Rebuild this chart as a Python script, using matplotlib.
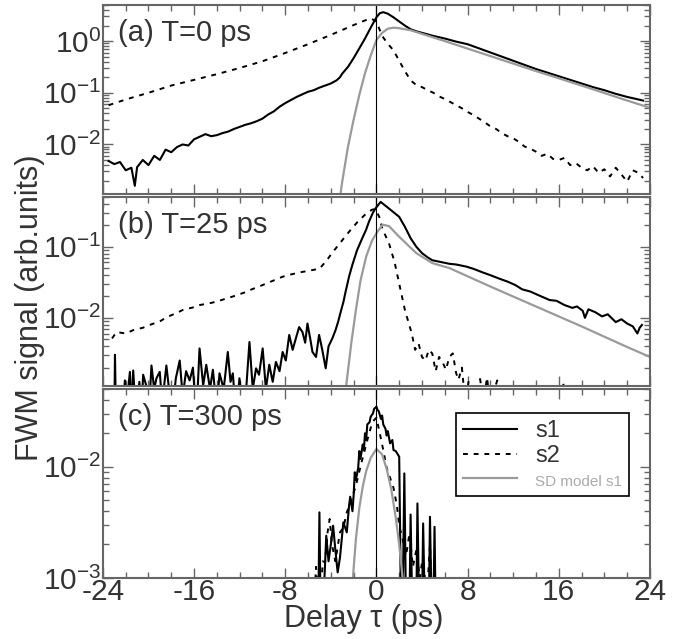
import numpy as np
import matplotlib
matplotlib.use("Agg")
import matplotlib.pyplot as plt
from matplotlib.ticker import MultipleLocator, LogLocator, NullFormatter

plt.rcParams['font.family'] = ['Liberation Sans', 'DejaVu Sans']
plt.rcParams['mathtext.fontset'] = 'custom'
plt.rcParams['mathtext.rm'] = 'Liberation Sans'
plt.rcParams['mathtext.it'] = 'Liberation Sans:italic'
plt.rcParams['axes.unicode_minus'] = False

# values are log10(signal): (delay ps, log10 value)
a_s1 = [(-23.5, -2.32), (-23.0, -2.38), (-22.5, -2.34), (-22.0, -2.50), (-21.5, -2.45),
        (-21.2, -2.80), (-21.0, -2.44), (-20.5, -2.30), (-20.0, -2.40), (-19.5, -2.22),
        (-19.0, -2.30), (-18.5, -2.10), (-18.0, -2.15), (-17.5, -2.05), (-17.0, -2.00),
        (-16.5, -2.02), (-16.0, -1.90), (-15.5, -1.85), (-15.0, -1.80), (-14.5, -1.84),
        (-14.0, -1.82), (-13.5, -1.78), (-13.0, -1.75), (-12.5, -1.70), (-12.0, -1.66),
        (-11.5, -1.62), (-11.0, -1.59), (-10.5, -1.55), (-10.0, -1.50), (-9.5, -1.42),
        (-9.0, -1.36), (-8.5, -1.27), (-8.0, -1.20), (-7.5, -1.14), (-7.0, -1.08),
        (-6.5, -1.03), (-6.0, -0.98), (-5.5, -0.95), (-5.0, -0.90), (-4.5, -0.86),
        (-4.0, -0.82), (-3.5, -0.76), (-3.2, -0.70), (-3.0, -0.63), (-2.5, -0.50),
        (-2.0, -0.33), (-1.5, -0.14), (-1.0, 0.05), (-0.5, 0.26), (0.0, 0.46),
        (0.3, 0.54), (0.6, 0.56), (1.0, 0.53), (1.5, 0.46), (2.0, 0.38), (2.5, 0.30),
        (3.0, 0.23), (3.5, 0.19), (4.0, 0.16), (5.0, 0.10), (6.0, 0.05), (7.0, -0.01),
        (8.0, -0.06), (9.0, -0.14), (10.0, -0.22), (11.0, -0.30), (12.0, -0.38),
        (13.0, -0.46), (14.0, -0.54), (15.0, -0.61), (16.0, -0.68), (17.0, -0.75),
        (18.0, -0.82), (19.0, -0.89), (20.0, -0.95), (21.0, -1.02), (22.0, -1.08),
        (23.0, -1.13), (23.4, -1.15)]

a_s2 = [(-23.5, -1.24), (-22.0, -1.13), (-20.0, -1.00), (-18.0, -0.86), (-16.0, -0.75),
        (-14.0, -0.64), (-12.0, -0.52), (-10.0, -0.39), (-8.0, -0.23), (-6.0, -0.06),
        (-4.0, 0.12), (-2.0, 0.31), (-1.0, 0.40), (-0.5, 0.44), (0.0, 0.38), (0.5, 0.10),
        (1.0, -0.05), (1.5, -0.18), (2.0, -0.38), (2.5, -0.58), (3.0, -0.76), (3.5, -0.85),
        (4.0, -0.89), (4.5, -0.95), (5.0, -1.00), (5.5, -1.07), (6.0, -1.12), (6.5, -1.18),
        (7.0, -1.24), (7.5, -1.30), (8.0, -1.37), (8.5, -1.43), (9.0, -1.50), (9.5, -1.57),
        (10.0, -1.65), (10.5, -1.70), (11.0, -1.78), (11.5, -1.84), (12.0, -1.88),
        (12.5, -1.95), (13.0, -2.04), (13.5, -2.08), (14.0, -2.14), (14.5, -2.22),
        (15.0, -2.18), (15.5, -2.28), (16.0, -2.30), (16.5, -2.26), (17.0, -2.40),
        (17.5, -2.36), (18.0, -2.45), (18.5, -2.50), (19.0, -2.42), (19.5, -2.55),
        (20.0, -2.48), (20.5, -2.62), (21.0, -2.45), (21.5, -2.58), (22.0, -2.72),
        (22.5, -2.50), (23.0, -2.55), (23.4, -2.65)]

a_model = [(-3.3, -3.20), (-3.0, -2.72), (-2.5, -2.05), (-2.0, -1.52), (-1.5, -1.04),
           (-1.0, -0.62), (-0.5, -0.28), (0.0, 0.02), (0.5, 0.16), (1.0, 0.24), (1.5, 0.26),
           (2.0, 0.25), (2.5, 0.23), (3.0, 0.21), (6.0, 0.00), (10.0, -0.29), (14.0, -0.58),
           (18.0, -0.86), (22.0, -1.15), (24.0, -1.29)]

b_s1 = [(-23.6, -3.4), (-23.0, -3.4), (-22.94, -2.52), (-22.85, -3.4), (-22.3, -3.4),
        (-22.07, -2.88), (-21.9, -3.2), (-21.63, -2.76), (-21.5, -3.3), (-21.34, -2.74),
        (-21.1, -3.4), (-20.8, -2.90), (-20.6, -3.3), (-20.47, -2.80), (-20.2, -2.95),
        (-19.98, -3.4), (-19.74, -2.67), (-19.5, -3.0), (-19.3, -2.85), (-19.01, -2.76),
        (-18.8, -3.2), (-18.43, -2.67), (-18.2, -3.0), (-17.9, -3.3), (-17.6, -2.85),
        (-17.26, -2.60), (-17.0, -3.1), (-16.7, -2.75), (-16.39, -2.88), (-16.10, -2.70),
        (-15.8, -3.4), (-15.52, -2.43), (-15.2, -2.95), (-14.93, -2.66), (-14.6, -3.0),
        (-14.35, -2.73), (-14.0, -3.3), (-13.77, -2.78), (-13.4, -3.0), (-13.04, -2.48),
        (-12.8, -2.9), (-12.60, -2.78), (-12.3, -3.4), (-12.02, -2.85), (-11.6, -3.4),
        (-11.14, -2.34), (-10.85, -3.0), (-10.56, -2.71), (-10.3, -2.8), (-9.98, -2.43),
        (-9.7, -3.0), (-9.40, -2.66), (-9.1, -2.9), (-8.82, -2.62), (-8.5, -2.75),
        (-8.23, -2.48), (-7.95, -2.6), (-7.65, -2.24), (-7.35, -2.45), (-7.07, -2.29),
        (-6.78, -2.13), (-6.49, -2.20), (-6.25, -2.35), (-6.05, -2.08), (-5.8, -2.3),
        (-5.61, -2.48), (-5.3, -2.55), (-5.03, -2.24), (-4.75, -2.45), (-4.45, -2.71),
        (-4.2, -2.40), (-3.87, -2.29), (-3.58, -2.17), (-3.35, -2.05), (-3.14, -1.92),
        (-2.9, -1.78), (-2.70, -1.63), (-2.4, -1.42), (-2.12, -1.26), (-1.7, -1.05),
        (-1.24, -0.88), (-0.9, -0.76), (-0.66, -0.65), (-0.3, -0.52), (-0.07, -0.46),
        (0.37, -0.37), (1.0, -0.45), (2.0, -0.58), (2.5, -0.72), (3.0, -0.88), (3.5, -1.00),
        (4.0, -1.09), (4.5, -1.15), (4.9, -1.19), (5.5, -1.21), (6.4, -1.24), (7.0, -1.25),
        (7.9, -1.28), (8.5, -1.31), (9.3, -1.36), (10.0, -1.40), (10.8, -1.45),
        (11.5, -1.49), (12.2, -1.54), (12.8, -1.60), (13.5, -1.63), (14.2, -1.68),
        (15.2, -1.75), (15.8, -1.76), (16.5, -1.82), (17.2, -1.86), (17.6, -1.84),
        (18.1, -1.90), (18.3, -2.00), (18.6, -1.88), (19.2, -1.92), (19.8, -1.98),
        (20.3, -1.95), (21.0, -2.06), (21.5, -2.02), (22.0, -2.08), (22.5, -2.12),
        (22.9, -2.22), (23.1, -2.14), (23.3, -2.10)]

b_s2 = [(-23.2, -2.29), (-22.8, -2.20), (-22.0, -2.22), (-21.3, -2.17), (-20.5, -2.14),
        (-19.9, -2.10), (-19.0, -2.05), (-18.4, -1.99), (-17.5, -1.93), (-17.0, -1.89),
        (-16.0, -1.85), (-15.5, -1.82), (-14.5, -1.79), (-14.0, -1.77), (-13.0, -1.72),
        (-12.6, -1.70), (-11.5, -1.64), (-11.1, -1.61), (-10.0, -1.54), (-9.7, -1.52),
        (-8.8, -1.46), (-8.2, -1.42), (-7.5, -1.39), (-6.7, -1.36), (-6.0, -1.34),
        (-5.0, -1.31), (-4.4, -1.20), (-3.8, -1.07), (-3.1, -0.93), (-2.4, -0.79),
        (-1.7, -0.66), (-1.0, -0.55), (-0.4, -0.48), (-0.1, -0.47), (0.25, -0.58),
        (0.55, -0.76), (1.1, -0.95), (1.6, -1.22), (2.0, -1.52), (2.5, -1.89), (3.1, -2.22),
        (3.4, -2.45), (3.7, -2.36), (4.0, -2.55), (4.3, -2.60), (4.6, -2.45), (4.9, -2.50),
        (5.2, -2.75), (5.5, -2.55), (5.8, -2.62), (6.1, -2.73), (6.4, -2.55), (6.7, -2.50),
        (7.0, -2.78), (7.2, -2.87), (7.5, -2.70), (7.8, -3.2), (8.1, -2.88), (8.4, -3.2),
        (9.1, -2.86), (9.4, -3.2), (9.7, -2.84), (10.0, -3.2), (10.6, -2.88), (11.0, -3.2),
        (12.0, -2.92), (12.3, -3.3), (16.2, -3.3), (16.4, -2.92), (16.6, -3.3), (24.0, -3.3)]

b_model = [(-2.8, -3.20), (-2.65, -2.95), (-2.2, -2.35), (-1.8, -1.89), (-1.4, -1.48),
           (-0.9, -1.14), (-0.4, -0.92), (0.0, -0.81), (0.55, -0.69), (1.1, -0.71),
           (2.0, -0.86), (3.5, -1.09), (4.9, -1.23), (6.4, -1.30), (10.0, -1.56),
           (14.0, -1.84), (18.0, -2.12), (22.0, -2.41), (24.0, -2.55)]

c_s1 = [(-5.6, -3.3), (-5.1, -3.3), (-5.0, -2.41), (-4.9, -3.3), (-4.6, -3.1), (-4.4, -2.62),
        (-4.2, -2.85), (-4.0, -2.70), (-3.8, -2.53), (-3.6, -2.75), (-3.4, -2.95),
        (-3.2, -2.82), (-2.9, -2.50), (-2.6, -2.59), (-2.4, -2.35), (-2.3, -2.27),
        (-2.1, -2.40), (-2.0, -2.26), (-1.9, -2.05), (-1.8, -2.12), (-1.6, -2.01),
        (-1.5, -1.86), (-1.4, -1.93), (-1.2, -1.80), (-1.1, -1.85), (-1.0, -1.70),
        (-0.9, -1.76), (-0.8, -1.62), (-0.6, -1.60), (-0.5, -1.55), (-0.3, -1.52),
        (-0.2, -1.48), (0.0, -1.46), (0.1, -1.49), (0.2, -1.50), (0.4, -1.57), (0.5, -1.54),
        (0.6, -1.62), (0.8, -1.66), (0.9, -1.72), (1.0, -1.68), (1.2, -1.79), (1.4, -1.76),
        (1.5, -1.85), (1.7, -1.86), (2.0, -1.91), (2.15, -3.2), (2.3, -3.3), (2.45, -2.06),
        (2.6, -3.3), (2.9, -3.3), (3.0, -2.43), (3.15, -3.3), (3.5, -3.3), (3.6, -2.33),
        (3.75, -3.3), (4.0, -3.3), (4.1, -2.51), (4.25, -3.3), (4.6, -3.3), (4.7, -2.45),
        (4.85, -3.3), (5.0, -3.3), (5.1, -2.54), (5.2, -3.3)]

c_s2 = [(-5.5, -3.3), (-5.3, -2.90), (-5.0, -3.3), (-4.7, -2.85), (-4.5, -2.86),
        (-4.3, -2.60), (-4.1, -2.47), (-3.9, -2.70), (-3.6, -2.85), (-3.2, -2.59),
        (-2.9, -2.55), (-2.6, -2.41), (-2.2, -2.30), (-1.8, -2.17), (-1.4, -2.00),
        (-0.9, -1.80), (-0.5, -1.65), (-0.2, -1.58), (0.0, -1.56), (0.3, -1.70),
        (0.6, -1.85), (0.9, -2.01), (1.2, -2.10), (1.5, -2.19), (1.8, -2.35), (2.0, -2.53),
        (2.3, -2.65), (2.6, -2.80), (2.9, -2.60), (3.2, -2.90), (3.5, -2.75), (3.8, -3.0),
        (4.1, -2.80), (4.4, -3.2), (4.7, -2.70), (4.9, -3.3)]

c_model = [(-2.1, -3.05), (-1.8, -2.65), (-1.5, -2.37), (-1.2, -2.18), (-0.9, -2.04),
           (-0.5, -1.92), (0.0, -1.84), (0.5, -1.89), (0.9, -2.02), (1.3, -2.20),
           (1.7, -2.46), (2.0, -2.70), (2.35, -3.05)]

panel_labels = ['(a) T=0 ps', '(b) T=25 ps', '(c) T=300 ps']
panel_ylims = [(1.1e-3, 5.0), (1.1e-3, 0.5), (1e-3, 0.05)]
legend_labels = ['s1', 's2', 'SD model s1']

TXT = '#333333'
GRAY = '#9a9a9a'
SPINE = '#666666'

fig = plt.figure(figsize=(6.86, 6.39), dpi=100)
bottoms = [0.6964, 0.3959, 0.0955]
axes = []
for i in range(3):
    axes.append(fig.add_axes([0.150, bottoms[i], 0.7974, 0.2958]))

series = [(a_s1, a_s2, a_model), (b_s1, b_s2, b_model), (c_s1, c_s2, c_model)]

for i, ax in enumerate(axes):
    s1, s2, model = series[i]
    t1, v1 = zip(*s1)
    t2, v2 = zip(*s2)
    tm, vm = zip(*model)
    h1, = ax.plot(t1, 10 ** np.array(v1), color='black', lw=1.5)
    h2, = ax.plot(t2, 10 ** np.array(v2), color='black', lw=1.4, ls=(0, (2.5, 3)))
    h3, = ax.plot(tm, 10 ** np.array(vm), color=GRAY, lw=1.6)
    ax.axvline(0, color='black', lw=0.8)

    ax.set_yscale('log')
    ax.set_xlim(-24, 24)
    ax.set_ylim(*panel_ylims[i])
    ax.xaxis.set_major_locator(MultipleLocator(8))
    ax.xaxis.set_minor_locator(MultipleLocator(2))
    ax.yaxis.set_major_locator(LogLocator(base=10))
    ax.yaxis.set_minor_locator(LogLocator(base=10, subs=np.arange(2, 10)))
    ax.yaxis.set_minor_formatter(NullFormatter())
    ax.tick_params(which='both', direction='in', top=True, right=True,
                   colors=SPINE, labelcolor=TXT, labelsize=21.5)
    ax.tick_params(which='major', length=7, width=1.0)
    ax.tick_params(which='minor', length=4, width=1.0)
    ax.tick_params(axis='y', pad=1)
    ax.tick_params(axis='x', pad=0)
    for sp in ax.spines.values():
        sp.set_color(SPINE)
        sp.set_linewidth(1.5)
    if i < 2:
        ax.tick_params(axis='x', labelbottom=False)
    ax.text(0.028, 0.85, panel_labels[i], transform=ax.transAxes, fontsize=21,
            color=TXT, va='center', ha='left')

leg = axes[2].legend([h1, h2, h3], legend_labels, loc='upper right',
                     bbox_to_anchor=(0.962, 0.873), borderaxespad=0, fontsize=17,
                     handlelength=2.3, handletextpad=0.75, labelspacing=0.12,
                     borderpad=0.3, fancybox=False, framealpha=1, edgecolor='black')
leg.get_frame().set_linewidth(1.2)
leg.get_texts()[2].set_fontsize(11)
leg.get_texts()[2].set_color('#aaaaaa')
for t in leg.get_texts()[:2]:
    t.set_color(TXT)

fig.text(0.044, 0.518, 'FWM signal (arb.units)', rotation=90, fontsize=22,
         color=TXT, ha='center', va='center')
fig.text(0.53, 0.031, 'Delay τ (ps)', fontsize=22, color=TXT, ha='center', va='center')

fig.savefig('out.png', dpi=100)
